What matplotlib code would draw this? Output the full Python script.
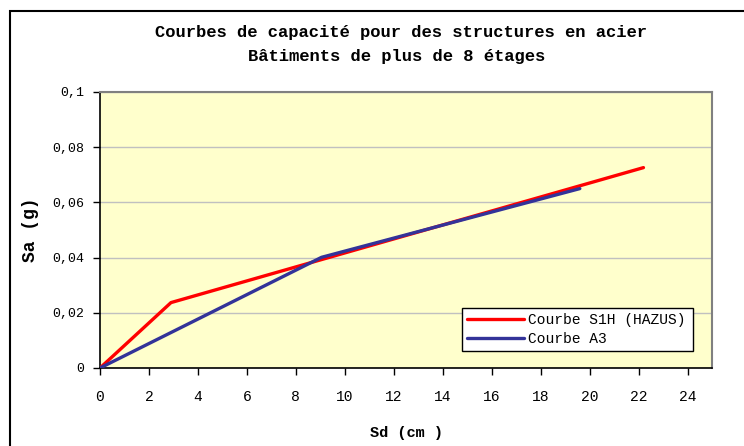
import matplotlib
matplotlib.use("Agg")
import matplotlib.pyplot as plt
from matplotlib.patches import Rectangle

# Courbes de capacité (Sd en cm, Sa en g)
sd_s1h = [0.0, 2.9, 22.2]
sa_s1h = [0.0, 0.0237, 0.0726]
sd_a3 = [0.0, 9.05, 19.6]
sa_a3 = [0.0, 0.0401, 0.0650]

xticks = list(range(0, 25, 2))
yticks = [0, 0.02, 0.04, 0.06, 0.08, 0.1]
ytick_labels = ["0", "0,02", "0,04", "0,06", "0,08", "0,1"]

W, H = 744, 446
fig = plt.figure(figsize=(W / 100, H / 100), dpi=100)
fig.patch.set_facecolor("white")

# cadre du graphique
fig.patches.append(Rectangle((9.5 / W, -0.01), 1.0, (H - 11) / H + 0.01,
                             transform=fig.transFigure, fill=False,
                             edgecolor="black", lw=1.5))

left, right, top, bottom = 100, 712, 92, 368
ax = fig.add_axes([left / W, 1 - bottom / H, (right - left) / W, (bottom - top) / H])
ax.set_facecolor("#FFFFCC")

mono = "Liberation Mono"

ax.plot(sd_s1h, sa_s1h, color="#FF0000", lw=2.4, solid_capstyle="round",
        label="Courbe S1H (HAZUS)", zorder=3)
ax.plot(sd_a3, sa_a3, color="#333399", lw=2.4, solid_capstyle="round",
        label="Courbe A3", zorder=3)

ax.set_xlim(0, 25)
ax.set_ylim(0, 0.1)
ax.set_xticks(xticks)
ax.set_yticks(yticks)
ax.set_yticklabels(ytick_labels)
ax.grid(axis="y", color="#C0C0C0", lw=1)
ax.set_axisbelow(True)
ax.tick_params(axis="both", direction="out", length=5, width=1, color="black",
               pad=6)
ax.tick_params(axis="y", labelsize=9.5)
ax.tick_params(axis="x", labelsize=10.5, pad=11)
for lbl in ax.get_xticklabels() + ax.get_yticklabels():
    lbl.set_fontfamily(mono)

for side in ("top", "right"):
    ax.spines[side].set_color("#808080")
    ax.spines[side].set_linewidth(1.5)
for side in ("left", "bottom"):
    ax.spines[side].set_color("black")
    ax.spines[side].set_linewidth(1.2)

ax.set_xlabel("Sd (cm )", fontfamily=mono, fontsize=11, fontweight="bold",
              labelpad=16)
ax.set_ylabel("Sa (g)", fontfamily=mono, fontsize=13, fontweight="bold",
              labelpad=10)

fig.text(401 / W, 1 - 33 / H,
         "Courbes de capacité pour des structures en acier",
         ha="center", va="center", fontfamily=mono, fontsize=12.3,
         fontweight="bold")
fig.text(397 / W, 1 - 57 / H,
         "Bâtiments de plus de 8 étages",
         ha="center", va="center", fontfamily=mono, fontsize=12.3,
         fontweight="bold")

leg = ax.legend(loc="lower left", bbox_to_anchor=((462 - left) / (right - left),
                                                  (bottom - 351) / (bottom - top),
                                                  (693 - 462) / (right - left),
                                                  (351 - 298) / (bottom - top)),
                mode="expand", prop={"family": mono, "size": 10.5},
                frameon=True, fancybox=False, framealpha=1, edgecolor="black",
                handlelength=3.9, handletextpad=0.3, borderaxespad=0,
                labelspacing=0.35, borderpad=0.35)
leg.get_frame().set_linewidth(1)

fig.savefig("out.png", dpi=100)
